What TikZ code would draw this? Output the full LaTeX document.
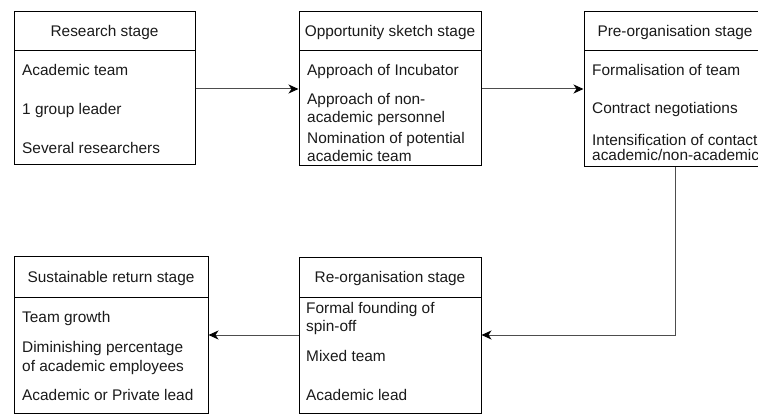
\documentclass[tikz,border=0pt]{standalone}
\usepackage{fontspec}
\setmainfont{Liberation Sans}
\usetikzlibrary{arrows.meta}
\definecolor{txt}{HTML}{1A1A1A}
\definecolor{conn}{HTML}{4D4D4D}
\tikzset{
  hdr/.style={draw=black, line width=1pt, inner sep=0pt, text height=11pt, text depth=0pt},
  body/.style={draw=black, line width=1pt, inner sep=0pt},
  item/.style={anchor=base west, inner sep=0pt, text=txt},
  arr/.style={draw=conn, line width=1pt, -{Stealth[length=10pt,width=9pt,inset=3pt,fill=black,color=black]}},
}
\begin{document}
\begin{tikzpicture}[x=1pt,y=-1pt,font=\fontsize{15.4}{18}\selectfont]
\clip (0,0) rectangle (758,414);
\fill[white] (0,0) rectangle (758,414);
% Research stage
\node[hdr, minimum width=181pt, minimum height=39pt, text=txt] (h1) at (104.5,31.5) {Research stage};
\node[body, minimum width=181pt, minimum height=114pt] (b1) at (104.5,108) {};
\node[item] (t11) at (22,76) {Academic team};
\node[item] (t12) at (22,115) {1 group leader};
\node[item] (t13) at (22,154) {Several researchers};
% Opportunity sketch stage
\node[hdr, minimum width=182pt, minimum height=39pt, text=txt] (h2) at (390,31.5) {Opportunity sketch stage};
\node[body, minimum width=182pt, minimum height=115pt] (b2) at (390,108.5) {};
\node[item] (t21) at (307,76) {Approach of Incubator};
\node[item] (t22) at (307,105) {Approach of non-};
\node[item] (t23) at (307,123) {academic personnel};
\node[item] (t24) at (307,144) {Nomination of potential};
\node[item] (t25) at (307,162) {academic team};
% Pre-organisation stage
\node[hdr, minimum width=182pt, minimum height=39pt, text=txt] (h3) at (675,31.5) {Pre-organisation stage};
\node[body, minimum width=182pt, minimum height=116pt] (b3) at (675,109) {};
\node[item] (t31) at (592,76) {Formalisation of team};
\node[item] (t32) at (592,114) {Contract negotiations};
\node[item] (t33) at (592,146) {Intensification of contact};
\node[item] (t34) at (592,161) {academic/non-academic};
% Sustainable return stage
\node[hdr, minimum width=194pt, minimum height=40pt, text=txt] (h4) at (111,277) {Sustainable return stage};
\node[body, minimum width=194pt, minimum height=116pt] (b4) at (111,355) {};
\node[item] (t41) at (22,322) {Team growth};
\node[item] (t42) at (22,352) {Diminishing percentage};
\node[item] (t43) at (22,371) {of academic employees};
\node[item] (t44) at (22,400) {Academic or Private lead};
% Re-organisation stage
\node[hdr, minimum width=182pt, minimum height=39pt, text=txt] (h5) at (390,277.5) {Re-organisation stage};
\node[body, minimum width=182pt, minimum height=116pt] (b5) at (390,355) {};
\node[item] (t51) at (306,313) {Formal founding of};
\node[item] (t52) at (306,331) {spin-off};
\node[item] (t53) at (306,361) {Mixed team};
\node[item] (t54) at (306,400) {Academic lead};
% connectors
\draw[arr] ([yshift=19pt]b1.east) -- ([yshift=19.5pt]b2.west);
\draw[arr] ([yshift=19.5pt]b2.east) -- ([yshift=20pt]b3.west);
\draw[arr] (b3.south) |- ([yshift=20pt]b5.east);
\draw[arr] ([yshift=20pt]b5.west) -- ([yshift=20pt]b4.east);
\end{tikzpicture}
\end{document}
